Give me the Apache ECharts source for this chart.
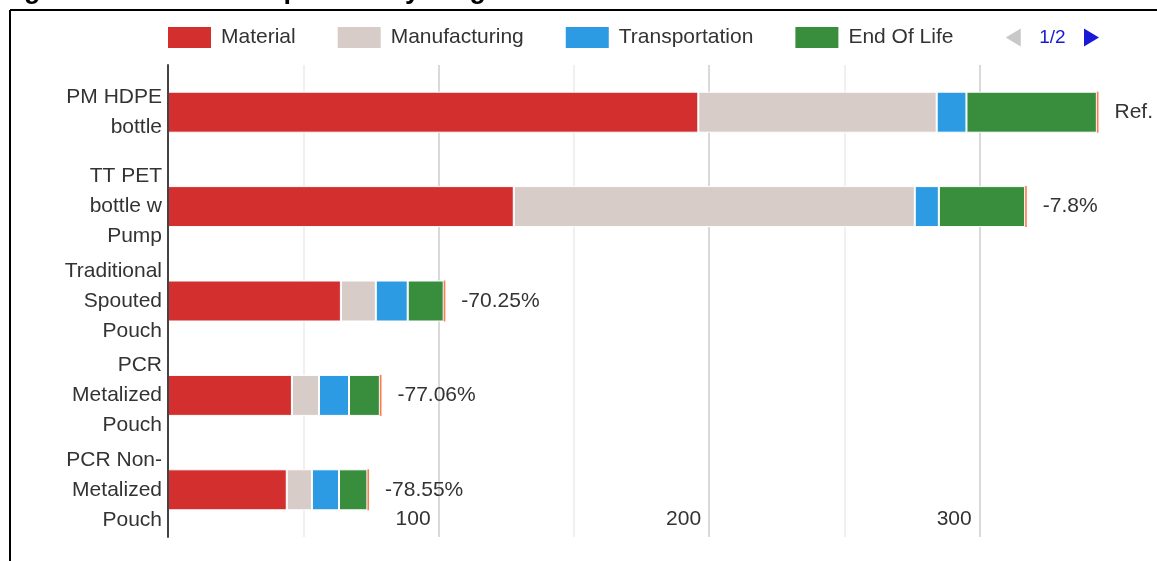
<!DOCTYPE html>
<html>
<head>
<meta charset="utf-8">
<script src="https://cdn.jsdelivr.net/npm/echarts@6/dist/echarts.min.js"></script>
<style>
  html, body { margin: 0; padding: 0; background: #ffffff; }
  #chart { width: 1157px; height: 561px; }
</style>
</head>
<body>
<div id="chart"></div>
<script>
// ---- data ----
const categories = ['PM HDPE\nbottle', 'TT PET\nbottle w\nPump', 'Traditional\nSpouted\nPouch', 'PCR\nMetalized\nPouch', 'PCR Non-\nMetalized\nPouch'];
const material = [196.0, 127.8, 63.9, 45.8, 43.9];
const manufacturing = [88.1, 148.2, 12.9, 10.0, 9.3];
const transportation = [11.0, 8.9, 11.8, 11.1, 10.0];
const endOfLife = [48.2, 31.9, 13.3, 11.4, 10.5];
const usePhase = [0.6, 0.6, 0.6, 0.6, 0.6];
const annotations = ['Ref.', '-7.8%', '-70.25%', '-77.06%', '-78.55%'];
const seriesNames = ['Material', 'Manufacturing', 'Transportation', 'End Of Life', 'Use Phase'];
const xTickLabels = ['100', '200', '300'];

const FONT = 'Arial, "Liberation Sans", sans-serif';
const colors = ['#d32f2f', '#d7ccc8', '#2d9be3', '#388e3c', '#ff7a50'];
const values = [material, manufacturing, transportation, endOfLife, usePhase];

const chart = echarts.init(document.getElementById('chart'), null, { renderer: 'canvas' });

const series = values.map((arr, i) => ({
  name: seriesNames[i],
  type: 'bar',
  stack: 'total',
  data: arr,
  barWidth: 41,
  itemStyle: {
    color: colors[i],
    borderColor: '#ffffff',
    borderWidth: i === 4 ? 0 : 1
  },
  label: i === 4 ? {
    show: true,
    position: 'right',
    distance: 16,
    fontFamily: FONT,
    fontSize: 21,
    color: '#333',
    formatter: p => annotations[p.dataIndex]
  } : { show: false },
  emphasis: { disabled: true },
  animation: false
}));

const option = {
  animation: false,
  color: colors,
  grid: { left: 168, right: 42, top: 65, bottom: 24, containLabel: false },
  legend: {
    type: 'scroll',
    orient: 'horizontal',
    left: 161,
    top: 20,
    width: 933,
    itemWidth: 45,
    itemHeight: 23,
    itemGap: 40,
    icon: 'rect',
    data: seriesNames,
    textStyle: { fontFamily: FONT, fontSize: 21, color: '#333', padding: [0, 0, 0, 4] },
    pageButtonPosition: 'end',
    pageButtonGap: 30,
    pageButtonItemGap: 10,
    pageIcons: {
      horizontal: ['path://M0,9L15,0L15,18z', 'path://M0,0L15,9L0,18z']
    },
    pageIconColor: '#1a1ad6',
    pageIconInactiveColor: '#c8c8c8',
    pageIconSize: [15, 18],
    pageTextStyle: { color: '#1a1ad6', fontFamily: FONT, fontSize: 19 },
    pageFormatter: '{current}/{total}'
  },
  xAxis: {
    type: 'value',
    min: 0,
    max: 350,
    interval: 50,
    axisLine: { show: false },
    axisTick: { show: false },
    splitLine: {
      show: true,
      showMinLine: true,
      showMaxLine: false,
      lineStyle: { color: ['#cccccc', '#ebebeb'], width: 1.5 }
    },
    axisLabel: {
      inside: true,
      margin: 18,
      align: 'right',
      verticalAlign: 'middle',
      padding: [0, 8, 0, 0],
      fontFamily: FONT,
      fontSize: 21,
      color: '#333',
      showMaxLabel: false,
      formatter: v => {
        const s = String(v);
        return xTickLabels.indexOf(s) >= 0 ? s : '';
      }
    }
  },
  yAxis: {
    type: 'category',
    inverse: true,
    data: categories,
    axisLine: { show: true, lineStyle: { color: '#444', width: 2 } },
    axisTick: { show: false },
    splitLine: { show: false },
    axisLabel: {
      margin: 6,
      fontFamily: FONT,
      fontSize: 21,
      lineHeight: 30,
      color: '#333',
      align: 'right'
    },
    z: 5
  },
  graphic: [
    {
      type: 'text',
      left: 0,
      top: -23,
      silent: true,
      style: {
        text: 'Figure 3: Carbon Comparison by Stage',
        font: 'bold 27px ' + FONT,
        fill: '#000'
      }
    },
    {
      type: 'line',
      silent: true,
      shape: { x1: 10, y1: 10, x2: 1157, y2: 10 },
      style: { stroke: '#000', lineWidth: 2 }
    },
    {
      type: 'line',
      silent: true,
      shape: { x1: 10, y1: 10, x2: 10, y2: 561 },
      style: { stroke: '#000', lineWidth: 2 }
    }
  ],
  series: series
};

chart.setOption(option);
</script>
</body>
</html>
